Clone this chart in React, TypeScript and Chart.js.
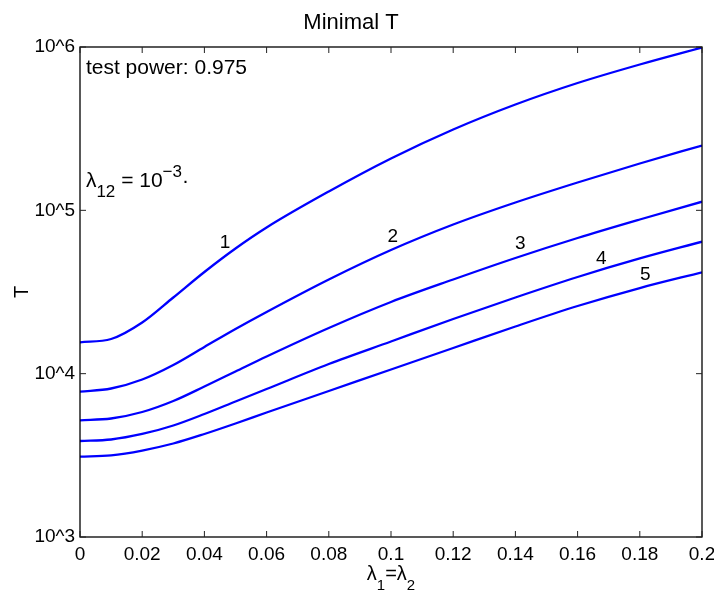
import React, { useEffect, useRef } from "react";
import { Chart, registerables } from "chart.js";

Chart.register(...registerables);

// ---- data ----
const X_VALUES = [0, 0.01, 0.02, 0.03, 0.04, 0.05, 0.06, 0.08, 0.1, 0.12, 0.14, 0.16, 0.18, 0.2];
const T1 = [15560, 16300, 20570, 29270, 41930, 58390, 78500, 130400, 207700, 312600, 444600, 602000, 781500, 993000];
const T2 = [7757, 8113, 9210, 11300, 14570, 18770, 23860, 37720, 57160, 81890, 111700, 148100, 193500, 249400];
const T3 = [5183, 5315, 5825, 6802, 8343, 10310, 12740, 19040, 27470, 37720, 51080, 67710, 87890, 112960];
const T4 = [3871, 3954, 4272, 4816, 5663, 6754, 8054, 11460, 15740, 21610, 29270, 39070, 50730, 64270];
const T5 = [3101, 3164, 3385, 3736, 4272, 4953, 5783, 7831, 10605, 14360, 19450, 25960, 33450, 41750];
const SERIES = [T1, T2, T3, T4, T5];

const CURVE_LABELS = ["1", "2", "3", "4", "5"];
const CURVE_LABEL_X = [0.0466, 0.1006, 0.1416, 0.1676, 0.1818];
const CURVE_LABEL_Y = [63600, 68450, 62270, 50200, 40220];

const X_TICKS = [0, 0.02, 0.04, 0.06, 0.08, 0.1, 0.12, 0.14, 0.16, 0.18, 0.2];
const Y_TICKS = [1000, 10000, 100000, 1000000];

const TITLE = "Minimal T";
const Y_TITLE = "T";
const NOTE_POWER = "test power: 0.975";
const NOTE_X = 0.0019;
const NOTE_POWER_Y = 684000;
const NOTE_LAMBDA_Y = 139000;

const FONT = '"Liberation Sans", Arial, Helvetica, sans-serif';
const BLUE = "#0000ff";

type Run = { text: string; size: number; dy: number };

function drawRuns(ctx: CanvasRenderingContext2D, runs: Run[], x: number, y: number, align: "left" | "center") {
  ctx.textAlign = "left";
  ctx.textBaseline = "alphabetic";
  let total = 0;
  const widths = runs.map((r) => {
    ctx.font = `${r.size}px ${FONT}`;
    const w = ctx.measureText(r.text).width;
    total += w;
    return w;
  });
  let cx = align === "center" ? x - total / 2 : x;
  runs.forEach((r, i) => {
    ctx.font = `${r.size}px ${FONT}`;
    ctx.fillText(r.text, cx, y + r.dy);
    cx += widths[i];
  });
}

const decorPlugin = {
  id: "decor",
  afterDatasetsDraw(chart: any) {
    const { ctx, chartArea: a, scales } = chart;
    const xs = scales.x;
    const ys = scales.y;
    ctx.save();
    // box
    ctx.strokeStyle = "#000";
    ctx.lineWidth = 1.3;
    ctx.strokeRect(a.left, a.top, a.right - a.left, a.bottom - a.top);
    // inward ticks
    ctx.lineWidth = 1;
    ctx.strokeStyle = "#222";
    ctx.beginPath();
    for (const v of X_TICKS) {
      const px = xs.getPixelForValue(v);
      ctx.moveTo(px, a.bottom);
      ctx.lineTo(px, a.bottom - 6);
      ctx.moveTo(px, a.top);
      ctx.lineTo(px, a.top + 6);
    }
    for (const v of Y_TICKS) {
      const py = ys.getPixelForValue(v);
      ctx.moveTo(a.left, py);
      ctx.lineTo(a.left + 6, py);
      ctx.moveTo(a.right, py);
      ctx.lineTo(a.right - 6, py);
    }
    ctx.stroke();

    ctx.fillStyle = "#000";
    // curve labels
    ctx.font = `19px ${FONT}`;
    ctx.textAlign = "center";
    ctx.textBaseline = "middle";
    CURVE_LABELS.forEach((t, i) => {
      ctx.fillText(t, xs.getPixelForValue(CURVE_LABEL_X[i]), ys.getPixelForValue(CURVE_LABEL_Y[i]));
    });

    // notes
    const nx = xs.getPixelForValue(NOTE_X);
    drawRuns(ctx, [{ text: NOTE_POWER, size: 21, dy: 0 }], nx, ys.getPixelForValue(NOTE_POWER_Y), "left");
    drawRuns(
      ctx,
      [
        { text: "λ", size: 21, dy: 0 },
        { text: "12", size: 17, dy: 10.5 },
        { text: " = 10", size: 21, dy: 0 },
        { text: "−3", size: 17, dy: -9.5 },
        { text: "·", size: 21, dy: 0 },
      ],
      nx,
      ys.getPixelForValue(NOTE_LAMBDA_Y),
      "left"
    );

    // x axis title
    drawRuns(
      ctx,
      [
        { text: "λ", size: 20, dy: 0 },
        { text: "1", size: 15, dy: 10 },
        { text: "=λ", size: 20, dy: 0 },
        { text: "2", size: 15, dy: 10 },
      ],
      (a.left + a.right) / 2,
      580,
      "center"
    );

    // y axis title
    ctx.translate(27.5, (a.top + a.bottom) / 2);
    ctx.rotate(-Math.PI / 2);
    ctx.font = `20px ${FONT}`;
    ctx.textAlign = "center";
    ctx.textBaseline = "alphabetic";
    ctx.fillText(Y_TITLE, 0, 0);
    ctx.restore();
  },
};

export default function App() {
  const ref = useRef<HTMLCanvasElement | null>(null);

  useEffect(() => {
    if (!ref.current) return;
    const chart = new Chart(ref.current, {
      type: "line",
      data: {
        datasets: SERIES.map((s, i) => ({
          label: CURVE_LABELS[i],
          data: X_VALUES.map((x, j) => ({ x, y: s[j] })),
          borderColor: BLUE,
          borderWidth: 2.3,
          pointRadius: 0,
          fill: false,
          cubicInterpolationMode: "monotone" as const,
        })),
      },
      options: {
        responsive: false,
        animation: false,
        devicePixelRatio: 1,
        layout: { padding: { left: 0, right: 12, top: 0, bottom: 0 } },
        plugins: {
          legend: { display: false },
          tooltip: { enabled: false },
          title: {
            display: true,
            text: TITLE,
            color: "#000",
            font: { family: FONT, size: 22, weight: "normal" },
            padding: { top: 10, bottom: 10.6 },
          },
        },
        scales: {
          x: {
            type: "linear",
            min: 0,
            max: 0.2,
            grid: { display: false, drawTicks: false },
            border: { display: false },
            afterBuildTicks: (s: any) => {
              s.ticks = X_TICKS.map((v) => ({ value: v }));
            },
            afterFit: (s: any) => {
              s.height = 55;
              s.paddingLeft = 0;
              s.paddingRight = 0;
            },
            ticks: {
              autoSkip: false,
              maxRotation: 0,
              padding: 6,
              color: "#000",
              font: { family: FONT, size: 19 },
              callback: (v: any) => String(parseFloat(Number(v).toFixed(2))),
            },
          },
          y: {
            type: "logarithmic",
            min: 1000,
            max: 1000000,
            grid: { display: false, drawTicks: false },
            border: { display: false },
            afterBuildTicks: (s: any) => {
              s.ticks = Y_TICKS.map((v) => ({ value: v }));
            },
            afterFit: (s: any) => {
              s.width = 80;
              s.paddingTop = 0;
              s.paddingBottom = 0;
            },
            ticks: {
              padding: 5,
              color: "#000",
              font: { family: FONT, size: 19 },
              callback: (v: any) => "10^" + Math.round(Math.log10(Number(v))),
            },
          },
        },
      },
      plugins: [decorPlugin],
    });
    return () => chart.destroy();
  }, []);

  return (
    <div style={{ position: "absolute", left: 0, top: 0, width: 714, height: 592, background: "#fff" }}>
      <canvas ref={ref} width={714} height={592} style={{ display: "block" }} />
    </div>
  );
}
